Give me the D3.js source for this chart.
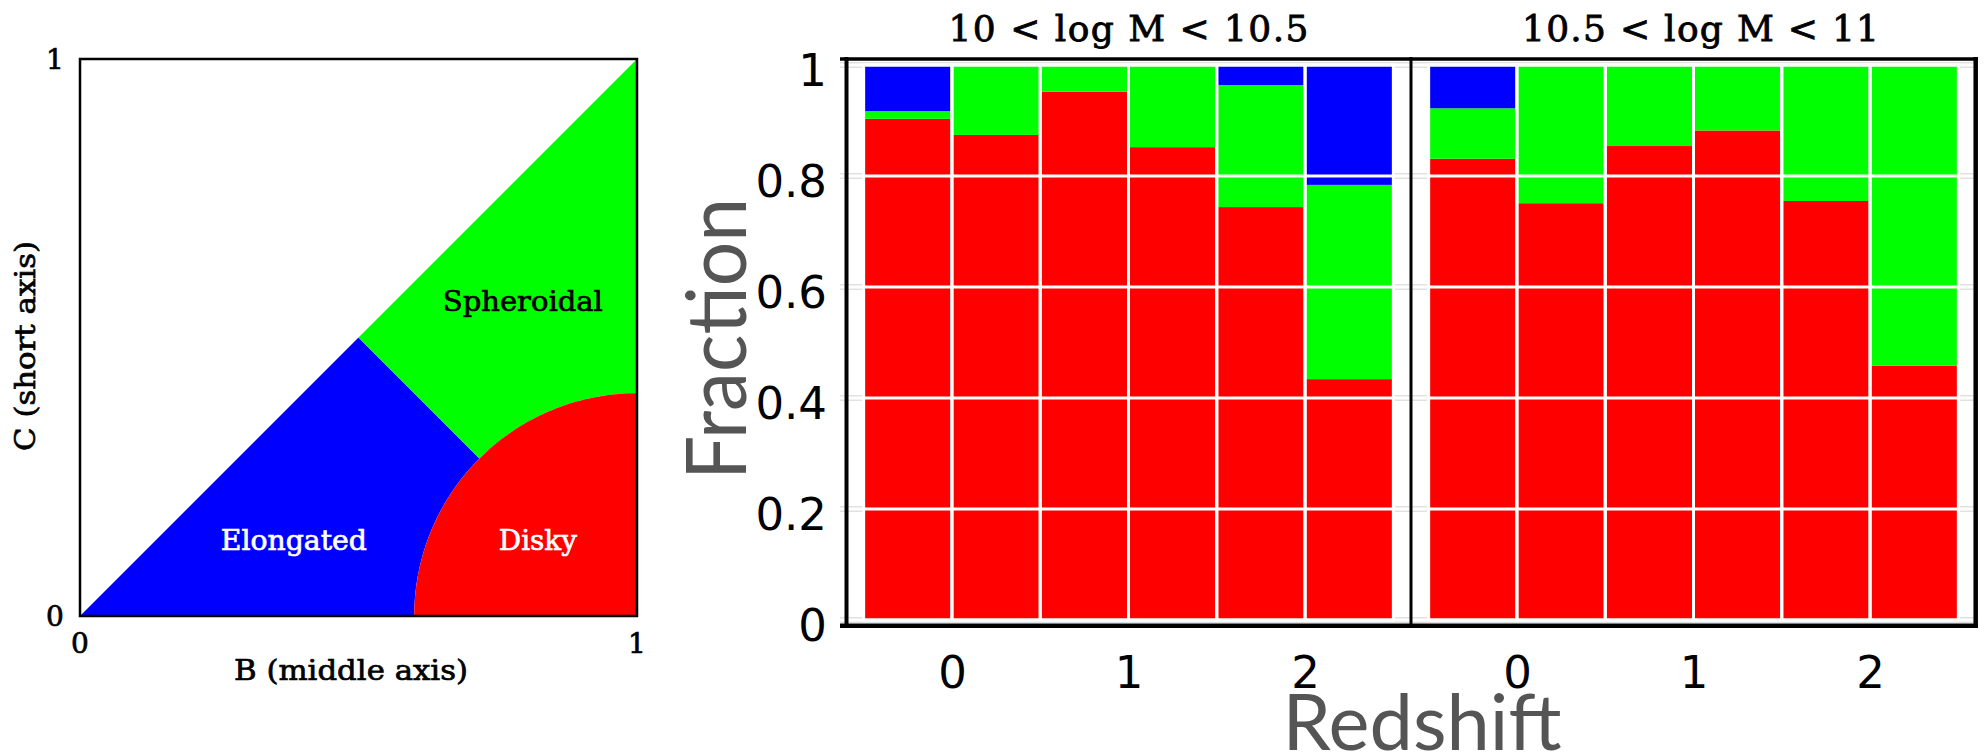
<!DOCTYPE html>
<html><head><meta charset="utf-8">
<script src="https://cdn.jsdelivr.net/npm/d3@7"></script>
<style>html,body{margin:0;padding:0;background:#fff;} svg{display:block;}</style>
</head><body>
<svg id="chart" width="1984" height="756"></svg>
<script>
// ---------------- DATA ----------------
// Right: stacked fractions per redshift bin (bin left edges, width 0.5)
const redshiftBins = [-0.5, 0, 0.5, 1, 1.5, 2];
const binWidth = 0.5;
const massBins = ["10 < log M < 10.5", "10.5 < log M < 11"];
const diskyLow      = [0.903, 0.874, 0.952, 0.852, 0.744, 0.434];
const spheroidalLow = [0.014, 0.126, 0.048, 0.148, 0.220, 0.350];
const elongatedLow  = [0.083, 0.000, 0.000, 0.000, 0.036, 0.216];
const diskyHigh      = [0.831, 0.751, 0.854, 0.882, 0.755, 0.458];
const spheroidalHigh = [0.091, 0.249, 0.146, 0.118, 0.245, 0.542];
const elongatedHigh  = [0.078, 0.000, 0.000, 0.000, 0.000, 0.000];
const yTicks = [0, 0.2, 0.4, 0.6, 0.8, 1];
const yTickLabels = ["0", "0.2", "0.4", "0.6", "0.8", "1"];
const xTicks = [0, 1, 2];
const xTickLabels = ["0", "1", "2"];
// Left: shape classification diagram
const shapeTicks = [0, 1];
const shapeTickLabels = ["0", "1"];
const regionNames = ["Elongated", "Spheroidal", "Disky"];
const diskCenter = [1, 0];
const diskRadius = 0.4;
const splitSum = 1; // boundary B + C = 1 between elongated and spheroidal

const COLORS = {Disky: "#ff0000", Spheroidal: "#00ff00", Elongated: "#0000ff"};

const svg = d3.select("#chart");

// ---------------- LEFT PANEL ----------------
const xS = d3.scaleLinear().domain([0, 1]).range([80, 637]);
const yS = d3.scaleLinear().domain([0, 1]).range([616, 59]);
const line = d3.line().x(d => xS(d[0])).y(d => yS(d[1]));
const arcPts = (t0, t1, n = 80) => d3.range(n + 1).map(i => {
  const t = t0 + (t1 - t0) * i / n;
  return [diskCenter[0] + diskRadius * Math.cos(t), diskCenter[1] + diskRadius * Math.sin(t)];
});
const apex = [splitSum / 2, splitSum / 2];
const tJ = 3 * Math.PI / 4;
const left = svg.append("g");
left.append("path")
  .attr("d", line([[0, 0], apex, ...arcPts(tJ, Math.PI)]) + "Z")
  .attr("fill", COLORS.Elongated);
left.append("path")
  .attr("d", line([apex, [1, 1], ...arcPts(Math.PI / 2, tJ)]) + "Z")
  .attr("fill", COLORS.Spheroidal);
left.append("path")
  .attr("d", line([...arcPts(Math.PI, Math.PI / 2), [1, 0]]) + "Z")
  .attr("fill", COLORS.Disky);
left.append("rect")
  .attr("x", xS(0)).attr("y", yS(1))
  .attr("width", xS(1) - xS(0)).attr("height", yS(0) - yS(1))
  .attr("fill", "none").attr("stroke", "#000").attr("stroke-width", 2.5);

const serif = "'DejaVu Serif', 'Liberation Serif', serif";
function serifText(g, color) {
  return g.append("text").attr("font-family", serif).attr("font-size", 28)
    .attr("fill", color || "#000").attr("stroke", color || "#000").attr("stroke-width", 0.7)
    .attr("text-anchor", "middle");
}
const regionLabelPos = {Spheroidal: [0.795, 0.548, 160, "#000"], Elongated: [0.384, 0.118, 146, "#fff"], Disky: [0.822, 0.119, 78, "#fff"]};
regionNames.forEach(n => {
  const p = regionLabelPos[n];
  serifText(left, p[3]).attr("x", xS(p[0])).attr("y", yS(p[1]))
    .attr("textLength", p[2]).attr("lengthAdjust", "spacingAndGlyphs")
    .text(n);
});
shapeTicks.forEach((v, i) => {
  serifText(left).attr("x", 55).attr("y", yS(v) + 10).text(shapeTickLabels[i]);
  serifText(left).attr("x", xS(v)).attr("y", 653).text(shapeTickLabels[i]);
});
serifText(left).attr("x", 351).attr("y", 680)
  .attr("textLength", 234).attr("lengthAdjust", "spacingAndGlyphs")
  .text("B (middle axis)");
serifText(left).attr("transform", "translate(34.5,346) rotate(-90)")
  .attr("textLength", 210).attr("lengthAdjust", "spacingAndGlyphs")
  .text("C (short axis)");

// ---------------- RIGHT PANELS ----------------
const yF = d3.scaleLinear().domain([0, 1]).range([620, 65]);
const panelRanges = [[846, 1411], [1411, 1976]];
const xScales = panelRanges.map(r => d3.scaleLinear().domain([-0.6, 2.6]).range(r));
const panelData = [
  {Disky: diskyLow, Spheroidal: spheroidalLow, Elongated: elongatedLow},
  {Disky: diskyHigh, Spheroidal: spheroidalHigh, Elongated: elongatedHigh}
];
const keys = ["Disky", "Spheroidal", "Elongated"];
const right = svg.append("g");

const gridG = right.append("g");
yTicks.forEach(v => {
  gridG.append("line").attr("x1", 840).attr("x2", 1976).attr("y1", yF(v)).attr("y2", yF(v))
    .attr("stroke", "#c4c4c4").attr("stroke-width", 5);
  gridG.append("line").attr("x1", 840).attr("x2", 1976).attr("y1", yF(v)).attr("y2", yF(v))
    .attr("stroke", "#fff").attr("stroke-width", 3);
});

panelData.forEach((pd, p) => {
  const x = xScales[p];
  const rows = redshiftBins.map((z, i) => {
    const o = {z};
    keys.forEach(k => o[k] = pd[k][i]);
    return o;
  });
  const stack = d3.stack().keys(keys)(rows);
  const g = right.append("g");
  stack.forEach(layer => {
    g.selectAll(null).data(layer).join("rect")
      .attr("x", d => x(d.data.z))
      .attr("width", d => x(d.data.z + binWidth) - x(d.data.z))
      .attr("y", d => yF(d[1]))
      .attr("height", d => yF(d[0]) - yF(d[1]))
      .attr("fill", COLORS[layer.key]);
  });
  g.selectAll(null).data(rows).join("rect")
    .attr("x", d => x(d.z)).attr("width", d => x(d.z + binWidth) - x(d.z))
    .attr("y", yF(1)).attr("height", yF(0) - yF(1))
    .attr("fill", "none").attr("stroke", "#fff").attr("stroke-width", 3);

  const xa = right.append("g").attr("transform", "translate(0,688)")
    .call(d3.axisBottom(x).tickValues(xTicks).tickFormat((d, i) => xTickLabels[i]).tickSize(0).tickPadding(0));
  xa.select(".domain").remove();
  xa.selectAll("text").attr("y", 0).attr("dy", 0)
    .attr("font-family", "'DejaVu Sans', sans-serif").attr("font-size", 45).attr("fill", "#000");

  const titleOffset = [0, 7][p];
  right.append("text").attr("x", x(1) + titleOffset).attr("y", 41)
    .attr("text-anchor", "middle").attr("font-family", serif).attr("font-size", 36)
    .attr("stroke", "#000").attr("stroke-width", 0.8)
    .attr("textLength", [360, 357][p]).attr("lengthAdjust", "spacing")
    .text(massBins[p]);
});

yTicks.forEach(v => {
  right.append("line").attr("x1", 840).attr("x2", 1976).attr("y1", yF(v)).attr("y2", yF(v))
    .attr("stroke", "#fff").attr("stroke-width", 3);
});

const ya = right.append("g").attr("transform", "translate(827,2)")
  .call(d3.axisLeft(yF).tickValues(yTicks).tickFormat((d, i) => yTickLabels[i]).tickSize(0).tickPadding(0));
ya.select(".domain").remove();
ya.selectAll("text").attr("dy", "0.4em")
  .attr("font-family", "'DejaVu Sans', sans-serif").attr("font-size", 45).attr("fill", "#000");

const fr = right.append("g").attr("stroke", "#000");
fr.append("line").attr("x1", 840).attr("x2", 1978).attr("y1", 59).attr("y2", 59).attr("stroke-width", 3.5);
fr.append("line").attr("x1", 840).attr("x2", 1978).attr("y1", 625.7).attr("y2", 625.7).attr("stroke-width", 4.5);
fr.append("line").attr("x1", 846.5).attr("x2", 846.5).attr("y1", 57).attr("y2", 628).attr("stroke-width", 4);
fr.append("line").attr("x1", 1411).attr("x2", 1411).attr("y1", 57).attr("y2", 628).attr("stroke-width", 3);
fr.append("line").attr("x1", 1975.7).attr("x2", 1975.7).attr("y1", 57).attr("y2", 628).attr("stroke-width", 4.5);

const sans = "Lato, 'Open Sans', sans-serif";
right.append("text").attr("transform", "translate(746,339) rotate(-90)")
  .attr("text-anchor", "middle").attr("font-family", sans).attr("font-size", 84)
  .attr("fill", "#555").attr("textLength", 282).attr("lengthAdjust", "spacingAndGlyphs")
  .text("Fraction");
right.append("text").attr("x", 1422).attr("y", 750)
  .attr("text-anchor", "middle").attr("font-family", sans).attr("font-size", 78)
  .attr("fill", "#555").attr("textLength", 279).attr("lengthAdjust", "spacingAndGlyphs")
  .text("Redshift");
</script>
</body></html>
